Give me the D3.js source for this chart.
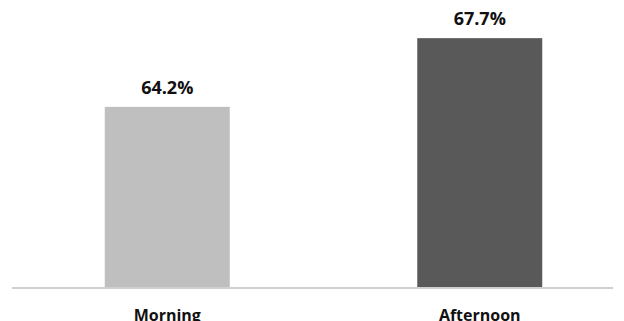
<!DOCTYPE html>
<html>
<head>
<meta charset="utf-8">
<script src="https://cdn.jsdelivr.net/npm/d3@7/dist/d3.min.js"></script>
<style>
  html, body { margin: 0; padding: 0; background: #fff; }
  svg { display: block; }
  text { font-family: "Open Sans", "Liberation Sans", sans-serif; font-weight: 700; fill: #111; }
</style>
</head>
<body>
<svg id="chart" width="624" height="321"></svg>
<script>
// Share of responses by time of day
const categories = ["Morning", "Afternoon"];
const values = [64.2, 67.7];
const barColors = ["#bfbfbf", "#595959"];

const svg = d3.select("#chart");
const baseY = 287.5;

const x = d3.scaleBand()
  .domain(categories)
  .range([11, 636])
  .paddingInner(0.6)
  .paddingOuter(0.3);

// value axis starts at 55 so the difference is visible
const y = d3.scaleLinear()
  .domain([55, 70])
  .range([baseY, -7]);

// bars
svg.selectAll("rect.bar")
  .data(values)
  .join("rect")
  .attr("class", "bar")
  .attr("x", (d, i) => x(categories[i]))
  .attr("width", x.bandwidth())
  .attr("y", d => y(d))
  .attr("height", d => baseY - y(d))
  .attr("fill", (d, i) => barColors[i]);

// baseline
svg.append("line")
  .attr("x1", 12).attr("x2", 613)
  .attr("y1", baseY + 0.5).attr("y2", baseY + 0.5)
  .attr("stroke", "#cfcfcf")
  .attr("stroke-width", 2);

// value labels
svg.selectAll("text.value")
  .data(values)
  .join("text")
  .attr("class", "value")
  .attr("x", (d, i) => x(categories[i]) + x.bandwidth() / 2)
  .attr("y", d => y(d) - 13)
  .attr("text-anchor", "middle")
  .attr("font-size", 18)
  .text(d => d.toFixed(1) + "%");

// category labels
svg.selectAll("text.cat")
  .data(categories)
  .join("text")
  .attr("class", "cat")
  .attr("x", d => x(d) + x.bandwidth() / 2)
  .attr("y", 321)
  .attr("text-anchor", "middle")
  .attr("font-size", 16)
  .text(d => d);
</script>
</body>
</html>
